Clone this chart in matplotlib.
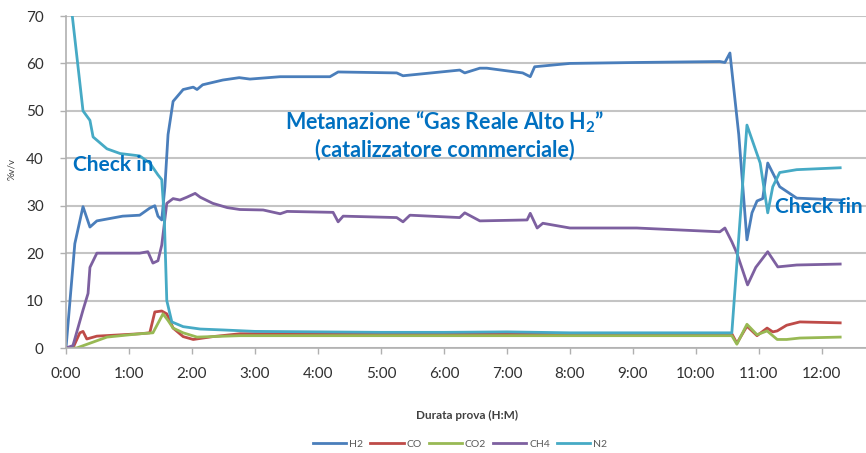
import matplotlib
matplotlib.use("Agg")
import matplotlib.pyplot as plt

plt.rcParams['font.family'] = ['Lato', 'DejaVu Sans']
plt.rcParams['mathtext.fontset'] = 'custom'
plt.rcParams['mathtext.rm'] = 'Lato:bold'
plt.rcParams['mathtext.bf'] = 'Lato:bold'
plt.rcParams['mathtext.default'] = 'bf'

# ---- data (time in hours, values in %v/v) ----
t_h2 = [0, 0.14, 0.27, 0.38, 0.49, 0.9, 1.17, 1.33, 1.41, 1.46, 1.52, 1.57, 1.62, 1.7, 1.86,
        2.02, 2.08, 2.17, 2.49, 2.75, 2.92, 3.4, 4.19, 4.32, 5.25, 5.35, 6.25, 6.33, 6.57,
        6.68, 7.25, 7.37, 7.44, 8.0, 9.06, 10.38, 10.46, 10.54, 10.68, 10.81, 10.89, 10.97,
        11.06, 11.14, 11.33, 11.6, 12.29]
h2 = [0, 22, 29.8, 25.5, 26.8, 27.8, 28, 29.5, 30, 27.8, 27, 34, 45, 52, 54.5,
      55, 54.5, 55.5, 56.5, 57, 56.7, 57.2, 57.2, 58.2, 58, 57.4, 58.6, 58.0, 59,
      59, 58, 57.2, 59.3, 60, 60.2, 60.4, 60.2, 62.2, 45, 22.8, 28.5, 31,
      31.5, 39, 34, 31.6, 31.2]

t_co = [0, 0.11, 0.22, 0.27, 0.33, 0.49, 1.17, 1.33, 1.41, 1.52, 1.60, 1.70, 1.86, 2.02,
        2.33, 2.76, 4.0, 6.0, 8.0, 10.38, 10.57, 10.65, 10.81, 10.97, 11.13, 11.22, 11.29,
        11.44, 11.65, 12.29]
co = [0, 0, 3.2, 3.5, 1.9, 2.5, 3.0, 3.2, 7.6, 7.8, 7.2, 4.2, 2.4, 1.8,
      2.4, 3.0, 3.0, 3.0, 3.0, 3.0, 3.0, 1.0, 4.6, 2.6, 4.2, 3.4, 3.6,
      4.8, 5.5, 5.3]

t_co2 = [0, 0.17, 0.65, 1.17, 1.38, 1.54, 1.62, 1.70, 1.86, 2.08, 2.76, 4.0, 6.0, 8.0,
         10.38, 10.57, 10.65, 10.81, 10.97, 11.13, 11.29, 11.44, 11.65, 12.29]
co2 = [0, 0, 2.3, 3.0, 3.2, 7.2, 5.8, 4.2, 3.2, 2.3, 2.6, 2.6, 2.6, 2.6,
       2.6, 2.6, 0.8, 5.0, 2.8, 3.6, 1.8, 1.8, 2.1, 2.3]

t_ch4 = [0, 0.11, 0.27, 0.35, 0.38, 0.49, 1.17, 1.30, 1.38, 1.46, 1.52, 1.60, 1.70, 1.81,
         1.92, 2.05, 2.13, 2.33, 2.56, 2.76, 3.13, 3.4, 3.51, 4.24, 4.32, 4.4, 5.25, 5.35,
         5.46, 6.25, 6.33, 6.57, 7.32, 7.37, 7.48, 7.57, 8.0, 9.06, 10.38, 10.46, 10.57,
         10.65, 10.82, 10.95, 11.14, 11.3, 11.6, 12.29]
ch4 = [0, 0.5, 8, 11.5, 17, 20, 20, 20.3, 17.9, 18.4, 21.7, 30.5, 31.5, 31.2,
       31.8, 32.6, 31.8, 30.5, 29.6, 29.2, 29.1, 28.3, 28.8, 28.6, 26.6, 27.8, 27.5, 26.6,
       28, 27.5, 28.5, 26.8, 27.0, 28.4, 25.3, 26.3, 25.3, 25.3, 24.5, 25.3, 22.4,
       20, 13.3, 17, 20.3, 17.1, 17.5, 17.7]

t_n2 = [0, 0.1, 0.27, 0.38, 0.43, 0.65, 0.86, 1.17, 1.33, 1.46, 1.52, 1.56, 1.6, 1.68,
        1.86, 2.13, 2.5, 3.0, 4.0, 5.0, 6.0, 7.0, 8.0, 9.0, 10.0, 10.57, 10.81, 11.02,
        11.14, 11.22, 11.33, 11.6, 12.29]
n2 = [82, 70, 50, 48, 44.5, 42, 41, 40.5, 39, 36.5, 35.5, 27.6, 10, 5.5,
      4.5, 4, 3.8, 3.5, 3.4, 3.3, 3.3, 3.4, 3.2, 3.2, 3.2, 3.2, 47, 39,
      28.5, 34, 37, 37.6, 38]

x_ticks = list(range(0, 13))
x_labels = [f"{h}:00" for h in x_ticks]
y_ticks = [0, 10, 20, 30, 40, 50, 60, 70]

series = [("H2", t_h2, h2, "#4A7EBB"),
          ("CO", t_co, co, "#BE4B48"),
          ("CO2", t_co2, co2, "#98B954"),
          ("CH4", t_ch4, ch4, "#7D60A0"),
          ("N2", t_n2, n2, "#46AAC5")]

fig = plt.figure(figsize=(8.66, 4.53), dpi=100)
ax = fig.add_axes([66/866, 1 - 348/453, 1 - 66/866, 332/453])

for name, t, v, c in series:
    ax.plot(t, v, color=c, lw=2.0, label=name, solid_joinstyle='round')

ax.set_xlim(0, 12.7)
ax.set_ylim(0, 70)
ax.set_xticks(x_ticks)
ax.set_xticklabels(x_labels)
ax.set_yticks(y_ticks)
ax.grid(axis='y', color='#c4c4c4', lw=1.5)
ax.set_axisbelow(True)
for s in ['top', 'right']:
    ax.spines[s].set_visible(False)
for s in ['left', 'bottom']:
    ax.spines[s].set_color('#b0b0b0')
    ax.spines[s].set_linewidth(1.2)
ax.tick_params(axis='both', colors='#b0b0b0', labelcolor='#303030', labelsize=11,
               length=4, width=1.0)
ax.tick_params(axis='y', pad=12)
ax.tick_params(axis='x', pad=10)

ax.set_ylabel("%v/v", fontsize=7, color='#404040')
ax.yaxis.set_label_coords(-0.062, 0.54)
ax.set_xlabel("Durata prova (H:M)", fontsize=8.5, fontweight='bold', color='#404040')
ax.xaxis.set_label_coords((467 - 66) / 800, -0.188)

leg = ax.legend(loc='center', bbox_to_anchor=((460 - 66) / 800, -0.29), ncol=5,
                frameon=False, fontsize=7.5, handlelength=3.2, handletextpad=0.25,
                columnspacing=0.7, labelcolor='#595959')

blue = '#0070C0'
ax.text(0.11, 38.6, "Check in", color=blue, fontsize=15, fontweight='bold',
        va='center', ha='left')
ax.text(11.25, 29.7, "Check fin", color=blue, fontsize=15, fontweight='bold',
        va='center', ha='left', clip_on=False)
ax.text(6.02, 47.7, "Metanazione “Gas Reale Alto H$_2$”", color=blue, fontsize=15.5,
        fontweight='bold', ha='center', va='center')
ax.text(6.02, 41.8, "(catalizzatore commerciale)", color=blue, fontsize=15.5,
        fontweight='bold', ha='center', va='center')

fig.savefig("out.png", dpi=100)
